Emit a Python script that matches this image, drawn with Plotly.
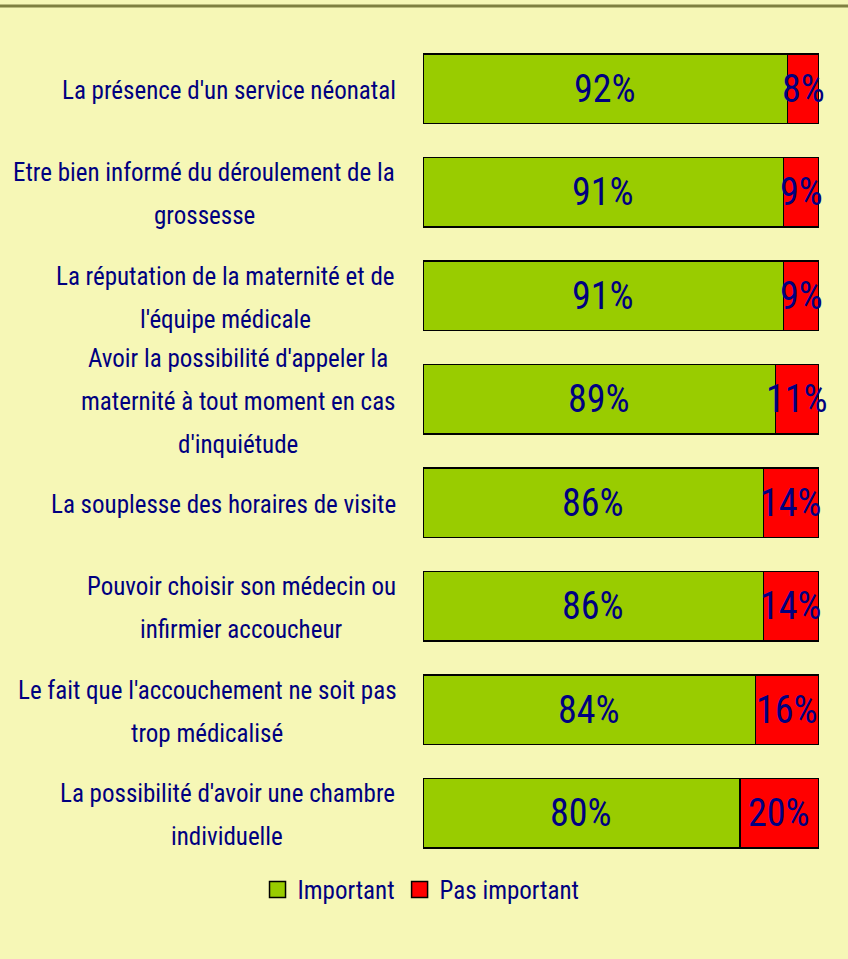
import plotly.graph_objects as go

categories = [
    "La présence d'un service néonatal",
    "Etre bien informé du déroulement de la<br>grossesse",
    "La réputation de la maternité et de<br>l'équipe médicale",
    "Avoir la possibilité d'appeler la<br>maternité à tout moment en cas<br>d'inquiétude",
    "La souplesse des horaires de visite",
    "Pouvoir choisir son médecin ou<br>infirmier accoucheur",
    "Le fait que l'accouchement ne soit pas<br>trop médicalisé",
    "La possibilité d'avoir une chambre<br>individuelle",
]
important = [92, 91, 91, 89, 86, 86, 84, 80]
pas_important = [8, 9, 9, 11, 14, 14, 16, 20]
series_names = ["Important", "Pas important"]

GREEN = "#99CC00"
RED = "#FF0000"
NAVY = "#000080"
BG = "#F6F7B6"
FONT = "Roboto Condensed, Roboto, sans-serif"

# layout helpers (pixel geometry of the label column)
PLOT_LEFT = 423
PLOT_W = 396
LABEL_RIGHT = 398
LINE_STEP = 43
label_center_px = [229, 204, 225, 238, 224, 241, 207, 227]

idx = list(range(len(categories)))

fig = go.Figure()
fig.add_trace(go.Bar(y=idx, x=important, orientation="h", name=series_names[0],
                     marker=dict(color=GREEN, line=dict(color="black", width=1.5)),
                     showlegend=False, hoverinfo="x"))
fig.add_trace(go.Bar(y=idx, x=pas_important, orientation="h", name=series_names[1],
                     marker=dict(color=RED, line=dict(color="black", width=1.5)),
                     showlegend=False, hoverinfo="x"))
# legend proxies
for name, col in zip(series_names, [GREEN, RED]):
    fig.add_trace(go.Scatter(x=[None], y=[None], mode="markers", name=name,
                             marker=dict(symbol="square", size=18, color=col,
                                         line=dict(color="black", width=1.5))))

annotations = []
for i, (a, b) in enumerate(zip(important, pas_important)):
    annotations.append(dict(x=a / 2, y=i, xref="x", yref="y", text=f"{a}%",
                            showarrow=False,
                            font=dict(size=38, color=NAVY, family=FONT)))
    annotations.append(dict(x=a + b / 2, y=i, xref="x", yref="y", text=f"{b}%",
                            showarrow=False,
                            font=dict(size=38, color=NAVY, family=FONT)))
    lines = categories[i].split("<br>")
    n = len(lines)
    for k, line in enumerate(lines):
        shift = -((k - (n - 1) / 2) * LINE_STEP + 2)
        if n == 1:
            annotations.append(dict(x=(LABEL_RIGHT - PLOT_LEFT) / PLOT_W, y=i,
                                    xref="paper", yref="y", text=line, xanchor="right",
                                    yshift=shift, showarrow=False,
                                    font=dict(size=25, color=NAVY, family=FONT)))
        else:
            annotations.append(dict(x=(label_center_px[i] - PLOT_LEFT) / PLOT_W, y=i,
                                    xref="paper", yref="y", text=line, xanchor="center",
                                    yshift=shift, showarrow=False,
                                    font=dict(size=25, color=NAVY, family=FONT)))

fig.update_layout(
    width=848, height=959,
    barmode="stack", bargap=0.33,
    paper_bgcolor=BG, plot_bgcolor=BG,
    margin=dict(l=PLOT_LEFT, r=848 - PLOT_LEFT - PLOT_W, t=37, b=94),
    xaxis=dict(range=[0, 100], visible=False, fixedrange=True),
    yaxis=dict(range=[len(categories) - 0.5, -0.5], visible=False, fixedrange=True),
    annotations=annotations,
    legend=dict(orientation="h", x=-0.005, xanchor="center", y=-0.03, yanchor="middle",
                traceorder="normal",
                font=dict(size=25, color=NAVY, family=FONT),
                bgcolor="rgba(0,0,0,0)", itemwidth=30, tracegroupgap=0),
    shapes=[dict(type="line", xref="paper", yref="paper", x0=-2, x1=2,
                 y0=1 + 31 / 828, y1=1 + 31 / 828,
                 line=dict(color="#7F8040", width=3))],
    showlegend=True,
)

fig.write_html("out.html", config={"displayModeBar": False},
               post_script="document.body.style.margin='0';")
